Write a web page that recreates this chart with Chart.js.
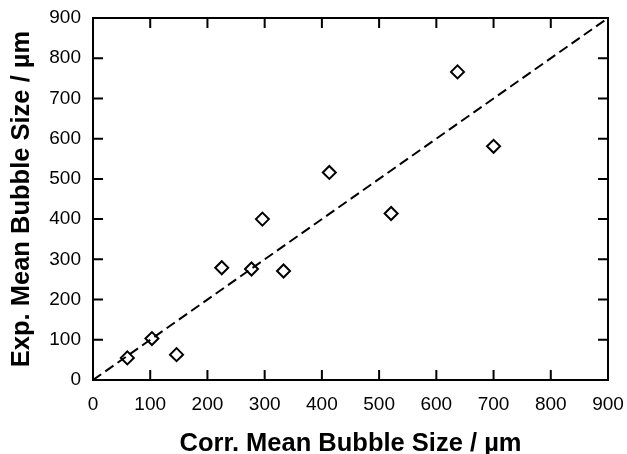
<!DOCTYPE html>
<html>
<head>
<meta charset="utf-8">
<script src="https://cdn.jsdelivr.net/npm/chart.js@4/dist/chart.umd.min.js"></script>
<style>
  html, body { margin: 0; padding: 0; background: #fff; }
  #wrap { width: 627px; height: 454px; position: relative; }
</style>
</head>
<body>
<div id="wrap"><canvas id="c" width="627" height="454"></canvas></div>
<script>
// Data
const corrSize = [60, 103, 146, 225, 277, 296, 333, 413, 521, 637, 700];
const expSize  = [55, 103, 63, 279, 276, 400, 271, 516, 414, 766, 581];
const parityX = [0, 900];
const parityY = [0, 900];
const tickValues = [0, 100, 200, 300, 400, 500, 600, 700, 800, 900];
const xTitle = 'Corr. Mean Bubble Size / \u00B5m';
const yTitle = 'Exp. Mean Bubble Size / \u00B5m';

const points = corrSize.map((x, i) => ({ x: x, y: expSize[i] }));
const parity = parityX.map((x, i) => ({ x: x, y: parityY[i] }));

const frame = {
  id: 'frame',
  afterDatasetsDraw(chart) {
    const { ctx, chartArea: a, scales } = chart;
    ctx.save();
    ctx.strokeStyle = '#000';
    ctx.lineWidth = 2;
    ctx.beginPath();
    const tl = 10;
    tickValues.forEach(v => {
      if (v === tickValues[0] || v === tickValues[tickValues.length - 1]) return;
      const px = scales.x.getPixelForValue(v);
      ctx.moveTo(px, a.bottom); ctx.lineTo(px, a.bottom - tl);
      ctx.moveTo(px, a.top); ctx.lineTo(px, a.top + tl);
      const py = scales.y.getPixelForValue(v);
      ctx.moveTo(a.left, py); ctx.lineTo(a.left + tl, py);
      ctx.moveTo(a.right, py); ctx.lineTo(a.right - tl, py);
    });
    ctx.stroke();
    ctx.strokeRect(a.left, a.top, a.right - a.left, a.bottom - a.top);
    ctx.restore();
  }
};

function zeroPad(scale) {
  scale.paddingTop = 0; scale.paddingBottom = 0;
  scale.paddingLeft = 0; scale.paddingRight = 0;
}

const tickFont = { family: '"Liberation Sans", Arial, sans-serif', size: 19 };
const titleFont = { family: '"Liberation Sans", Arial, sans-serif', size: 25.5, weight: 'bold', lineHeight: 0.8 };

new Chart(document.getElementById('c'), {
  type: 'scatter',
  data: {
    datasets: [
      {
        label: 'parity',
        data: parity,
        showLine: true,
        borderColor: '#000',
        borderWidth: 2,
        borderDash: [10, 5],
        pointRadius: 0,
        fill: false
      },
      {
        label: 'data',
        data: points,
        pointStyle: 'rectRot',
        pointRadius: 6.5,
        pointBorderWidth: 2,
        pointBorderColor: '#000',
        pointBackgroundColor: 'rgba(255,255,255,0)',
        showLine: false
      }
    ]
  },
  options: {
    responsive: false,
    animation: false,
    events: [],
    layout: { padding: { left: 0, right: 19, top: 18, bottom: 0 } },
    plugins: { legend: { display: false }, tooltip: { enabled: false } },
    scales: {
      x: {
        type: 'linear',
        min: 0, max: 900,
        afterBuildTicks(scale) { scale.ticks = tickValues.map(v => ({ value: v })); },
        afterFit(scale) { scale.height = 74; zeroPad(scale); },
        grid: { display: false, drawTicks: false },
        border: { display: false },
        ticks: { color: '#000', font: tickFont, padding: 13, maxRotation: 0 },
        title: { display: true, text: xTitle, color: '#000', font: titleFont, padding: { top: 0, bottom: 0 } }
      },
      y: {
        type: 'linear',
        min: 0, max: 900,
        afterBuildTicks(scale) { scale.ticks = tickValues.map(v => ({ value: v })); },
        afterFit(scale) { scale.width = 93; zeroPad(scale); },
        grid: { display: false, drawTicks: false },
        border: { display: false },
        ticks: { color: '#000', font: tickFont, padding: 12 },
        title: { display: true, text: yTitle, color: '#000', font: titleFont, padding: { top: 12, bottom: 0 } }
      }
    }
  },
  plugins: [frame]
});
</script>
</body>
</html>
